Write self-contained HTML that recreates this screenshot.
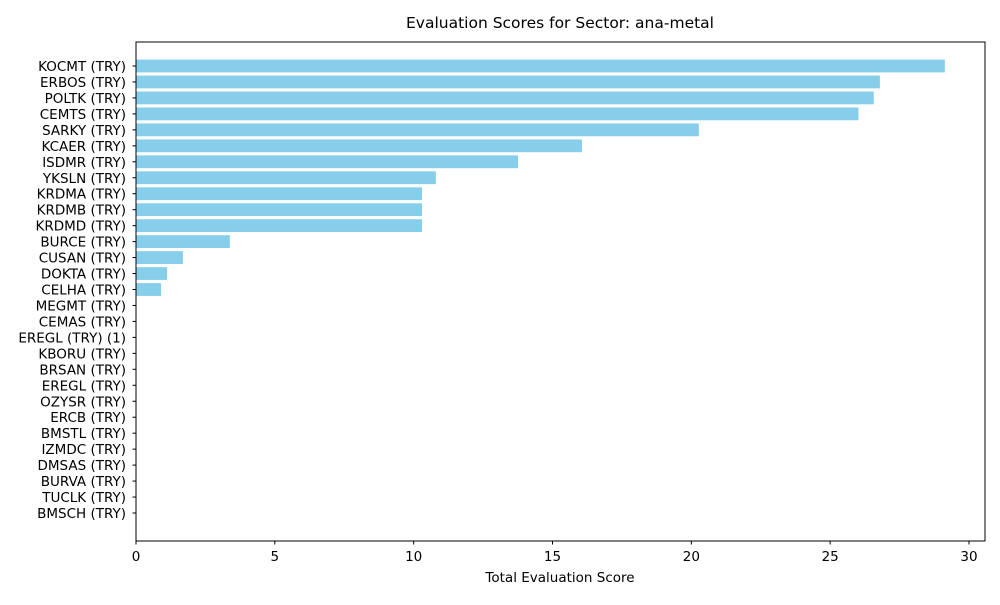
<!DOCTYPE html>
<html><head><meta charset="utf-8"><style>
body{margin:0;background:#fff;font-family:"Liberation Sans","DejaVu Sans",sans-serif}
</style></head><body>
<svg id="c" width="1000" height="600" xmlns="http://www.w3.org/2000/svg" font-family="DejaVu Sans, Liberation Sans, sans-serif">
<text x="560" y="28" text-anchor="middle" font-size="15.5">Evaluation Scores for Sector: ana-metal</text>
<text x="560" y="582" text-anchor="middle" font-size="13.5">Total Evaluation Score</text>
<g id="bars"></g><g id="ticks"></g>
<rect x="136" y="42" width="849" height="499" fill="none" stroke="#000" stroke-width="1"/>
</svg>
<script>
const categories=["KOCMT (TRY)","ERBOS (TRY)","POLTK (TRY)","CEMTS (TRY)","SARKY (TRY)","KCAER (TRY)","ISDMR (TRY)","YKSLN (TRY)","KRDMA (TRY)","KRDMB (TRY)","KRDMD (TRY)","BURCE (TRY)","CUSAN (TRY)","DOKTA (TRY)","CELHA (TRY)","MEGMT (TRY)","CEMAS (TRY)","EREGL (TRY) (1)","KBORU (TRY)","BRSAN (TRY)","EREGL (TRY)","OZYSR (TRY)","ERCB (TRY)","BMSTL (TRY)","IZMDC (TRY)","DMSAS (TRY)","BURVA (TRY)","TUCLK (TRY)","BMSCH (TRY)"];
const scores=[29.13,26.79,26.57,26.02,20.27,16.06,13.76,10.8,10.3,10.3,10.3,3.38,1.69,1.12,0.9,0,0,0,0,0,0,0,0,0,0,0,0,0,0];
const xTicks=[0,5,10,15,20,25,30];
const ns="http://www.w3.org/2000/svg";
const xS=v=>136+v*(833/30);
const yS=i=>66+i*(447/28);
const bars=document.getElementById('bars'),ticks=document.getElementById('ticks');
function mk(t,a,p){const e=document.createElementNS(ns,t);for(const k in a)e.setAttribute(k,a[k]);p.appendChild(e);return e;}
categories.forEach((c,i)=>{
 const r=mk('rect',{x:xS(0),y:yS(i)-6.4,width:Math.max(0,xS(scores[i])-xS(0)),height:12.8,fill:'#87ceeb'},bars);
 
 
 mk('line',{x1:132.5,x2:136,y1:yS(i),y2:yS(i),stroke:'#000'},ticks);
 const t=mk('text',{x:126,y:yS(i)+5,'text-anchor':'end','font-size':13.5},ticks);
 t.textContent=c;
 
 
});
xTicks.forEach(v=>{
 mk('line',{x1:xS(v),x2:xS(v),y1:541,y2:544.5,stroke:'#000'},ticks);
 const t=mk('text',{x:xS(v),y:561,'text-anchor':'middle','font-size':13.5},ticks);
 t.textContent=v;
 
 
});
</script>
</body></html>
